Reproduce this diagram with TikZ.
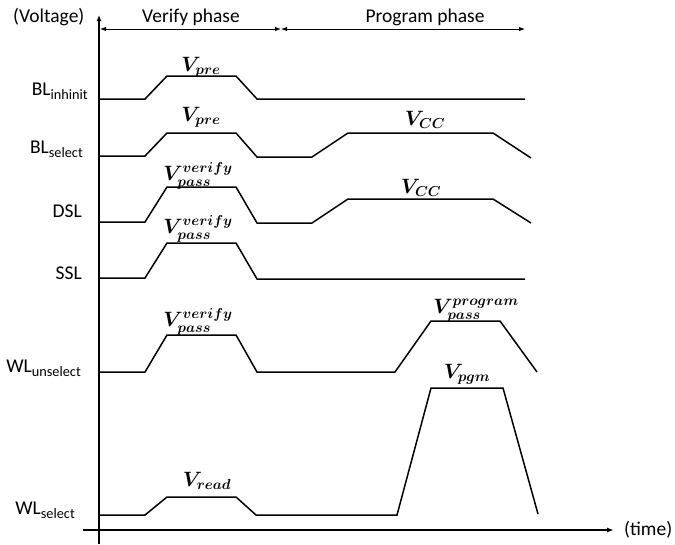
\documentclass[tikz,border=0pt]{standalone}
\usepackage{fontspec}
\setmainfont{Carlito}
\usetikzlibrary{arrows.meta}
\begin{document}
\begin{tikzpicture}[x=1pt,y=-1pt,
  sig/.style={line width=1.5pt, line join=miter},
  axis/.style={line width=1.5pt},
  phasearr/.style={line width=0.9pt, {Latex[length=6pt,width=4.5pt]}-{Latex[length=6pt,width=4.5pt]}},
  txt/.style={font=\fontsize{19.5}{22}\selectfont, inner sep=0pt},
  lbl/.style={txt, anchor=base east},
  vl/.style={font=\fontsize{20}{24}\selectfont\boldmath, inner sep=0pt, anchor=base}]
\useasboundingbox (0,0) rectangle (675,544);
\newcommand{\sbs}[1]{\raisebox{-4pt}{\fontsize{14.3}{16}\selectfont #1}}

% axes
\coordinate (ybot) at (99,544);
\coordinate (ytop) at (99,15);
\coordinate (xleft) at (83,530);
\coordinate (xright) at (614,530);
\draw[axis, -{Latex[length=6pt,width=5pt]}] (ybot) -- (ytop);
\draw[axis, -{Latex[length=7pt,width=5pt]}] (xleft) -- (xright);
\node[txt, anchor=base west] (voltage) at (13,22) {(Voltage)};
\node[txt, anchor=west] (time) at (624,530) {(time)};

% phases
\coordinate (pv1) at (100,29);
\coordinate (pm) at (281,29);
\coordinate (pp2) at (525,29);
\draw[phasearr] (pv1) -- (pm);
\draw[phasearr] (pm) -- (pp2);
\node[txt, anchor=base] (verify) at (191,22) {Verify phase};
\node[txt, anchor=base] (program) at (425,22) {Program phase};

% signal labels
\node[lbl] (blinh) at (88,95) {BL\sbs{inhinit}};
\node[lbl] (blsel) at (83,153) {BL\sbs{select}};
\node[lbl] (dsl) at (82,217) {DSL};
\node[lbl] (ssl) at (82,279) {SSL};
\node[lbl] (wlun) at (81,372) {WL\sbs{unselect}};
\node[lbl] (wlsel) at (75,514) {WL\sbs{select}};

% BL inhibit
\draw[sig] (99,99) -- (145,99) -- (167,76) -- (236,76) -- (257,99) -- (525,99);
\node[vl] (v1) at (201,71) {$V_{pre}$};

% BL select
\draw[sig] (99,156) -- (145,156) -- (167,133) -- (236,133) -- (257,157) -- (312,157) -- (348,133) -- (493,133) -- (531,158);
\node[vl] (v2) at (201,121) {$V_{pre}$};
\node[vl] (v3) at (425,125) {$V_{CC}$};

% DSL
\draw[sig] (99,222) -- (145,222) -- (167,187) -- (236,187) -- (257,223) -- (312,223) -- (348,199) -- (493,199) -- (531,223);
\node[vl] (v4) at (198,180) {$V_{pass}^{verify}$};
\node[vl] (v5) at (421,193) {$V_{CC}$};

% SSL
\draw[sig] (99,278) -- (145,278) -- (167,243) -- (236,243) -- (257,279) -- (525,279);
\node[vl] (v6) at (198,233) {$V_{pass}^{verify}$};

% WL unselect
\draw[sig] (99,372) -- (145,372) -- (167,335) -- (236,335) -- (257,372) -- (395,372) -- (431,321) -- (500,321) -- (537,372);
\node[vl] (v7) at (198,326) {$V_{pass}^{verify}$};
\node[vl] (v8) at (476,313) {$V_{pass}^{program}$};

% WL select
\draw[sig] (99,515) -- (145,515) -- (167,497) -- (236,497) -- (256,515) -- (397,515) -- (431,388) -- (503,388) -- (538,514);
\node[vl] (v9) at (207,486) {$V_{read}$};
\node[vl] (v10) at (467,378) {$V_{pgm}$};
\end{tikzpicture}
\end{document}
